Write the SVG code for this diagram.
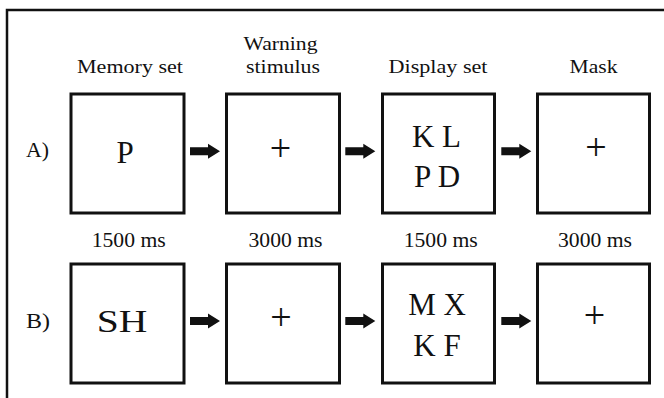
<svg xmlns="http://www.w3.org/2000/svg" width="664" height="398" viewBox="0 0 664 398" font-family="'Liberation Serif', 'Times New Roman', Times, 'Nimbus Roman', 'DejaVu Serif', serif">
<style>
text{font-family:'Liberation Serif','Times New Roman',Times,'Nimbus Roman','DejaVu Serif',serif;fill:#111}
.hd{font-size:19px;text-anchor:middle}
.ms{font-size:20px;text-anchor:middle}
.lb{font-size:22px}
.big{font-size:31px;text-anchor:middle}
.plus{font-size:38px;text-anchor:middle}
.box{fill:#fff;stroke:#111;stroke-width:3}
.frame{stroke:#111;stroke-width:2.5;fill:none}
</style>
<defs>
<path id="arr" d="M0,-4 H18 V-7.5 L30,0 L18,7.5 V4 H0 Z" fill="#111"/>
</defs>
<rect width="664" height="398" fill="#fff"/>
<g id="frame">
<path class="frame" d="M7,398 V10 H664"/>
</g>
<g id="headers">
<text class="hd" x="130" y="72.5" textLength="106" lengthAdjust="spacingAndGlyphs">Memory set</text>
<text class="hd" x="280.5" y="49.5" textLength="74" lengthAdjust="spacingAndGlyphs">Warning</text>
<text class="hd" x="283" y="72.5" textLength="74" lengthAdjust="spacingAndGlyphs">stimulus</text>
<text class="hd" x="438" y="72.5" textLength="99" lengthAdjust="spacingAndGlyphs">Display set</text>
<text class="hd" x="593.5" y="72.5" textLength="48" lengthAdjust="spacingAndGlyphs">Mask</text>
</g>
<g id="durations">
<text class="ms" x="128.7" y="246.7" textLength="74" lengthAdjust="spacingAndGlyphs">1500 ms</text>
<text class="ms" x="285.5" y="246.7" textLength="74" lengthAdjust="spacingAndGlyphs">3000 ms</text>
<text class="ms" x="440.7" y="246.7" textLength="74" lengthAdjust="spacingAndGlyphs">1500 ms</text>
<text class="ms" x="595" y="246.7" textLength="74" lengthAdjust="spacingAndGlyphs">3000 ms</text>
</g>
<g id="row-labels">
<text class="lb" x="26" y="157" textLength="23" lengthAdjust="spacingAndGlyphs">A)</text>
<text class="lb" x="26" y="327.7" textLength="24" lengthAdjust="spacingAndGlyphs">B)</text>
</g>
<g id="a-memory">
<rect class="box" x="71" y="94" width="113" height="119"/>
<text class="big" x="125" y="162.7">P</text>
</g>
<g id="a-warning">
<rect class="box" x="226.5" y="94" width="113" height="119"/>
<text class="plus" x="280.5" y="161">+</text>
</g>
<g id="a-display">
<rect class="box" x="382.5" y="94" width="112" height="119"/>
<text class="big" x="436.5" y="147">K L</text>
<text class="big" x="437" y="187.3">P D</text>
</g>
<g id="a-mask">
<rect class="box" x="537.5" y="94" width="112" height="119"/>
<text class="plus" x="596" y="159.5">+</text>
</g>
<g id="b-memory">
<rect class="box" x="71" y="264" width="113" height="119"/>
<text class="big" x="122" y="331.7" textLength="50.6" lengthAdjust="spacingAndGlyphs">SH</text>
</g>
<g id="b-warning">
<rect class="box" x="226.5" y="264" width="113" height="119"/>
<text class="plus" x="281" y="330">+</text>
</g>
<g id="b-display">
<rect class="box" x="382.5" y="264" width="112" height="119"/>
<text class="big" x="437" y="314.5">M X</text>
<text class="big" x="437" y="356">K F</text>
</g>
<g id="b-mask">
<rect class="box" x="537.5" y="264" width="112" height="119"/>
<text class="plus" x="594.5" y="328">+</text>
</g>
<g id="connectors">
<use href="#arr" x="190" y="151.3"/>
<use href="#arr" x="345.3" y="151.3"/>
<use href="#arr" x="501.3" y="151.3"/>
<use href="#arr" x="190" y="321"/>
<use href="#arr" x="345.3" y="321"/>
<use href="#arr" x="501.3" y="321"/>
</g>
</svg>
